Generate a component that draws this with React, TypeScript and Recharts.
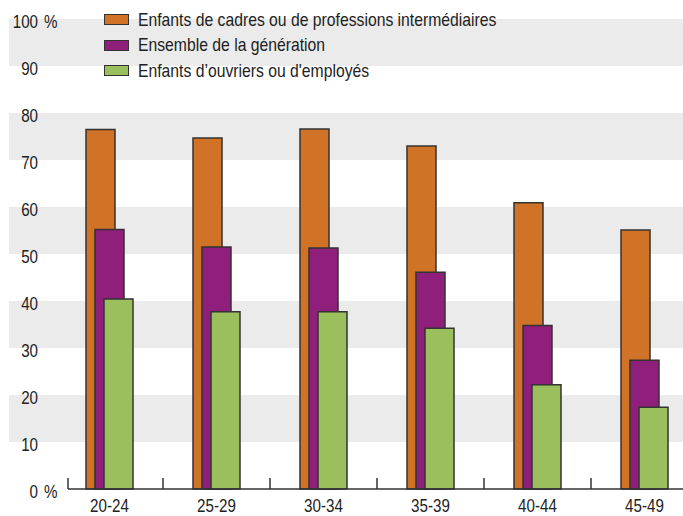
import React from 'react'
import { BarChart, Bar, XAxis, YAxis, ReferenceArea } from 'recharts'

const categories = ['20-24', '25-29', '30-34', '35-39', '40-44', '45-49']
const cadres = [76.5, 74.7, 76.6, 73.0, 60.9, 55.1]
const ensemble = [55.2, 51.5, 51.3, 46.1, 34.8, 27.4]
const ouvriers = [40.4, 37.7, 37.7, 34.2, 22.2, 17.4]
const yTicks = [0, 10, 20, 30, 40, 50, 60, 70, 80, 90, 100]
const grayBands = [10, 30, 50, 70, 90]

const series = [
  { key: 'cadres', name: 'Enfants de cadres ou de professions intermédiaires', color: '#d07327' },
  { key: 'ensemble', name: 'Ensemble de la génération', color: '#8f1f7b' },
  { key: 'ouvriers', name: "Enfants d\u2019ouvriers ou d'employés", color: '#9bbf5d' },
]

const FONT = "'Liberation Sans', Arial, sans-serif"
const FONT_SIZE = 18.5
const SQUEEZE = 0.82 // narrow look of the original font
const LEGEND_SQUEEZE = 0.85
const TEXT_COLOR = '#222'
const BAND_FILL = '#ebebeb'
const STROKE = '#333333'

// layout
const CHART_W = 698
const CHART_H = 516
const Y_AXIS_W = 56
const TOP = 19
const X_AXIS_H = 27
const BAND = (CHART_W - Y_AXIS_W) / categories.length
const STEP = (CHART_H - TOP - X_AXIS_H) / 10

const data = categories.map((c, i) => ({
  cat: c,
  cadres: cadres[i],
  ensemble: ensemble[i],
  ouvriers: ouvriers[i],
}))

function NarrowText({ x, y, anchor, children }: any) {
  return (
    <text
      transform={`translate(${x},${y}) scale(${SQUEEZE},1)`}
      x={0}
      y={0}
      textAnchor={anchor}
      fontSize={FONT_SIZE}
      fill={TEXT_COLOR}
      fontFamily={FONT}
    >
      {children}
    </text>
  )
}

function YTick(props: any) {
  const { y, payload } = props
  const v = payload.value
  const showPct = v === 0 || v === 100
  return (
    <g>
      {grayBands.includes(v) && (
        <rect x={9} y={y - STEP} width={Y_AXIS_W - 9} height={STEP} fill={BAND_FILL} />
      )}
      <NarrowText x={38} y={y + 9} anchor="end">{v}</NarrowText>
      {showPct && <NarrowText x={44} y={y + 9} anchor="start">%</NarrowText>}
    </g>
  )
}

function XTick(props: any) {
  const { x, y, payload, index } = props
  const right = x + BAND / 2
  const left = index === 0 ? 68 : x - BAND / 2
  return (
    <g>
      <line x1={left} y1={y} x2={right} y2={y} stroke={STROKE} strokeWidth={1.5} />
      {index === 0 && <line x1={left} y1={y} x2={left} y2={y - 11} stroke={STROKE} strokeWidth={1.5} />}
      <line x1={right} y1={y} x2={right} y2={y - 11} stroke={STROKE} strokeWidth={1.5} />
      <NarrowText x={x} y={y + 23} anchor="middle">{payload.value}</NarrowText>
    </g>
  )
}

function LegendBox() {
  return (
    <div
      style={{
        position: 'absolute',
        top: 7,
        left: 104,
        fontFamily: FONT,
        fontSize: FONT_SIZE,
        color: TEXT_COLOR,
        lineHeight: 1,
      }}
    >
      {series.map((s) => (
        <div key={s.key} style={{ display: 'flex', alignItems: 'center', height: 25.5 }}>
          <span
            style={{
              display: 'inline-block',
              width: 23,
              height: 9,
              background: s.color,
              border: `1.5px solid ${STROKE}`,
              marginRight: 9,
              flex: 'none',
            }}
          />
          <span
            style={{
              display: 'inline-block',
              whiteSpace: 'nowrap',
              transform: `scaleX(${LEGEND_SQUEEZE})`,
              transformOrigin: 'left center',
            }}
          >
            {s.name}
          </span>
        </div>
      ))}
    </div>
  )
}

export default function App() {
  return (
    <div
      style={{
        position: 'absolute',
        left: 0,
        top: 0,
        width: 683,
        height: 516,
        overflow: 'hidden',
        background: '#fff',
      }}
    >
      <BarChart
        width={CHART_W}
        height={CHART_H}
        data={data}
        margin={{ top: TOP, right: 0, bottom: 0, left: 0 }}
        barGap={-20}
        barCategoryGap={0}
      >
        {grayBands.map((v) => (
          <ReferenceArea key={v} y1={v} y2={v + 10} fill={BAND_FILL} fillOpacity={1} stroke="none" />
        ))}
        <XAxis
          dataKey="cat"
          height={X_AXIS_H}
          axisLine={false}
          tickLine={false}
          tickSize={0}
          tickMargin={0}
          interval={0}
          tick={<XTick />}
        />
        <YAxis
          domain={[0, 100]}
          ticks={yTicks}
          width={Y_AXIS_W}
          axisLine={false}
          tickLine={false}
          tick={<YTick />}
          interval={0}
        />
        {series.map((s) => (
          <Bar
            key={s.key}
            dataKey={s.key}
            name={s.name}
            fill={s.color}
            stroke={STROKE}
            strokeWidth={1.5}
            barSize={29}
            isAnimationActive={false}
          />
        ))}
      </BarChart>
      <LegendBox />
    </div>
  )
}
